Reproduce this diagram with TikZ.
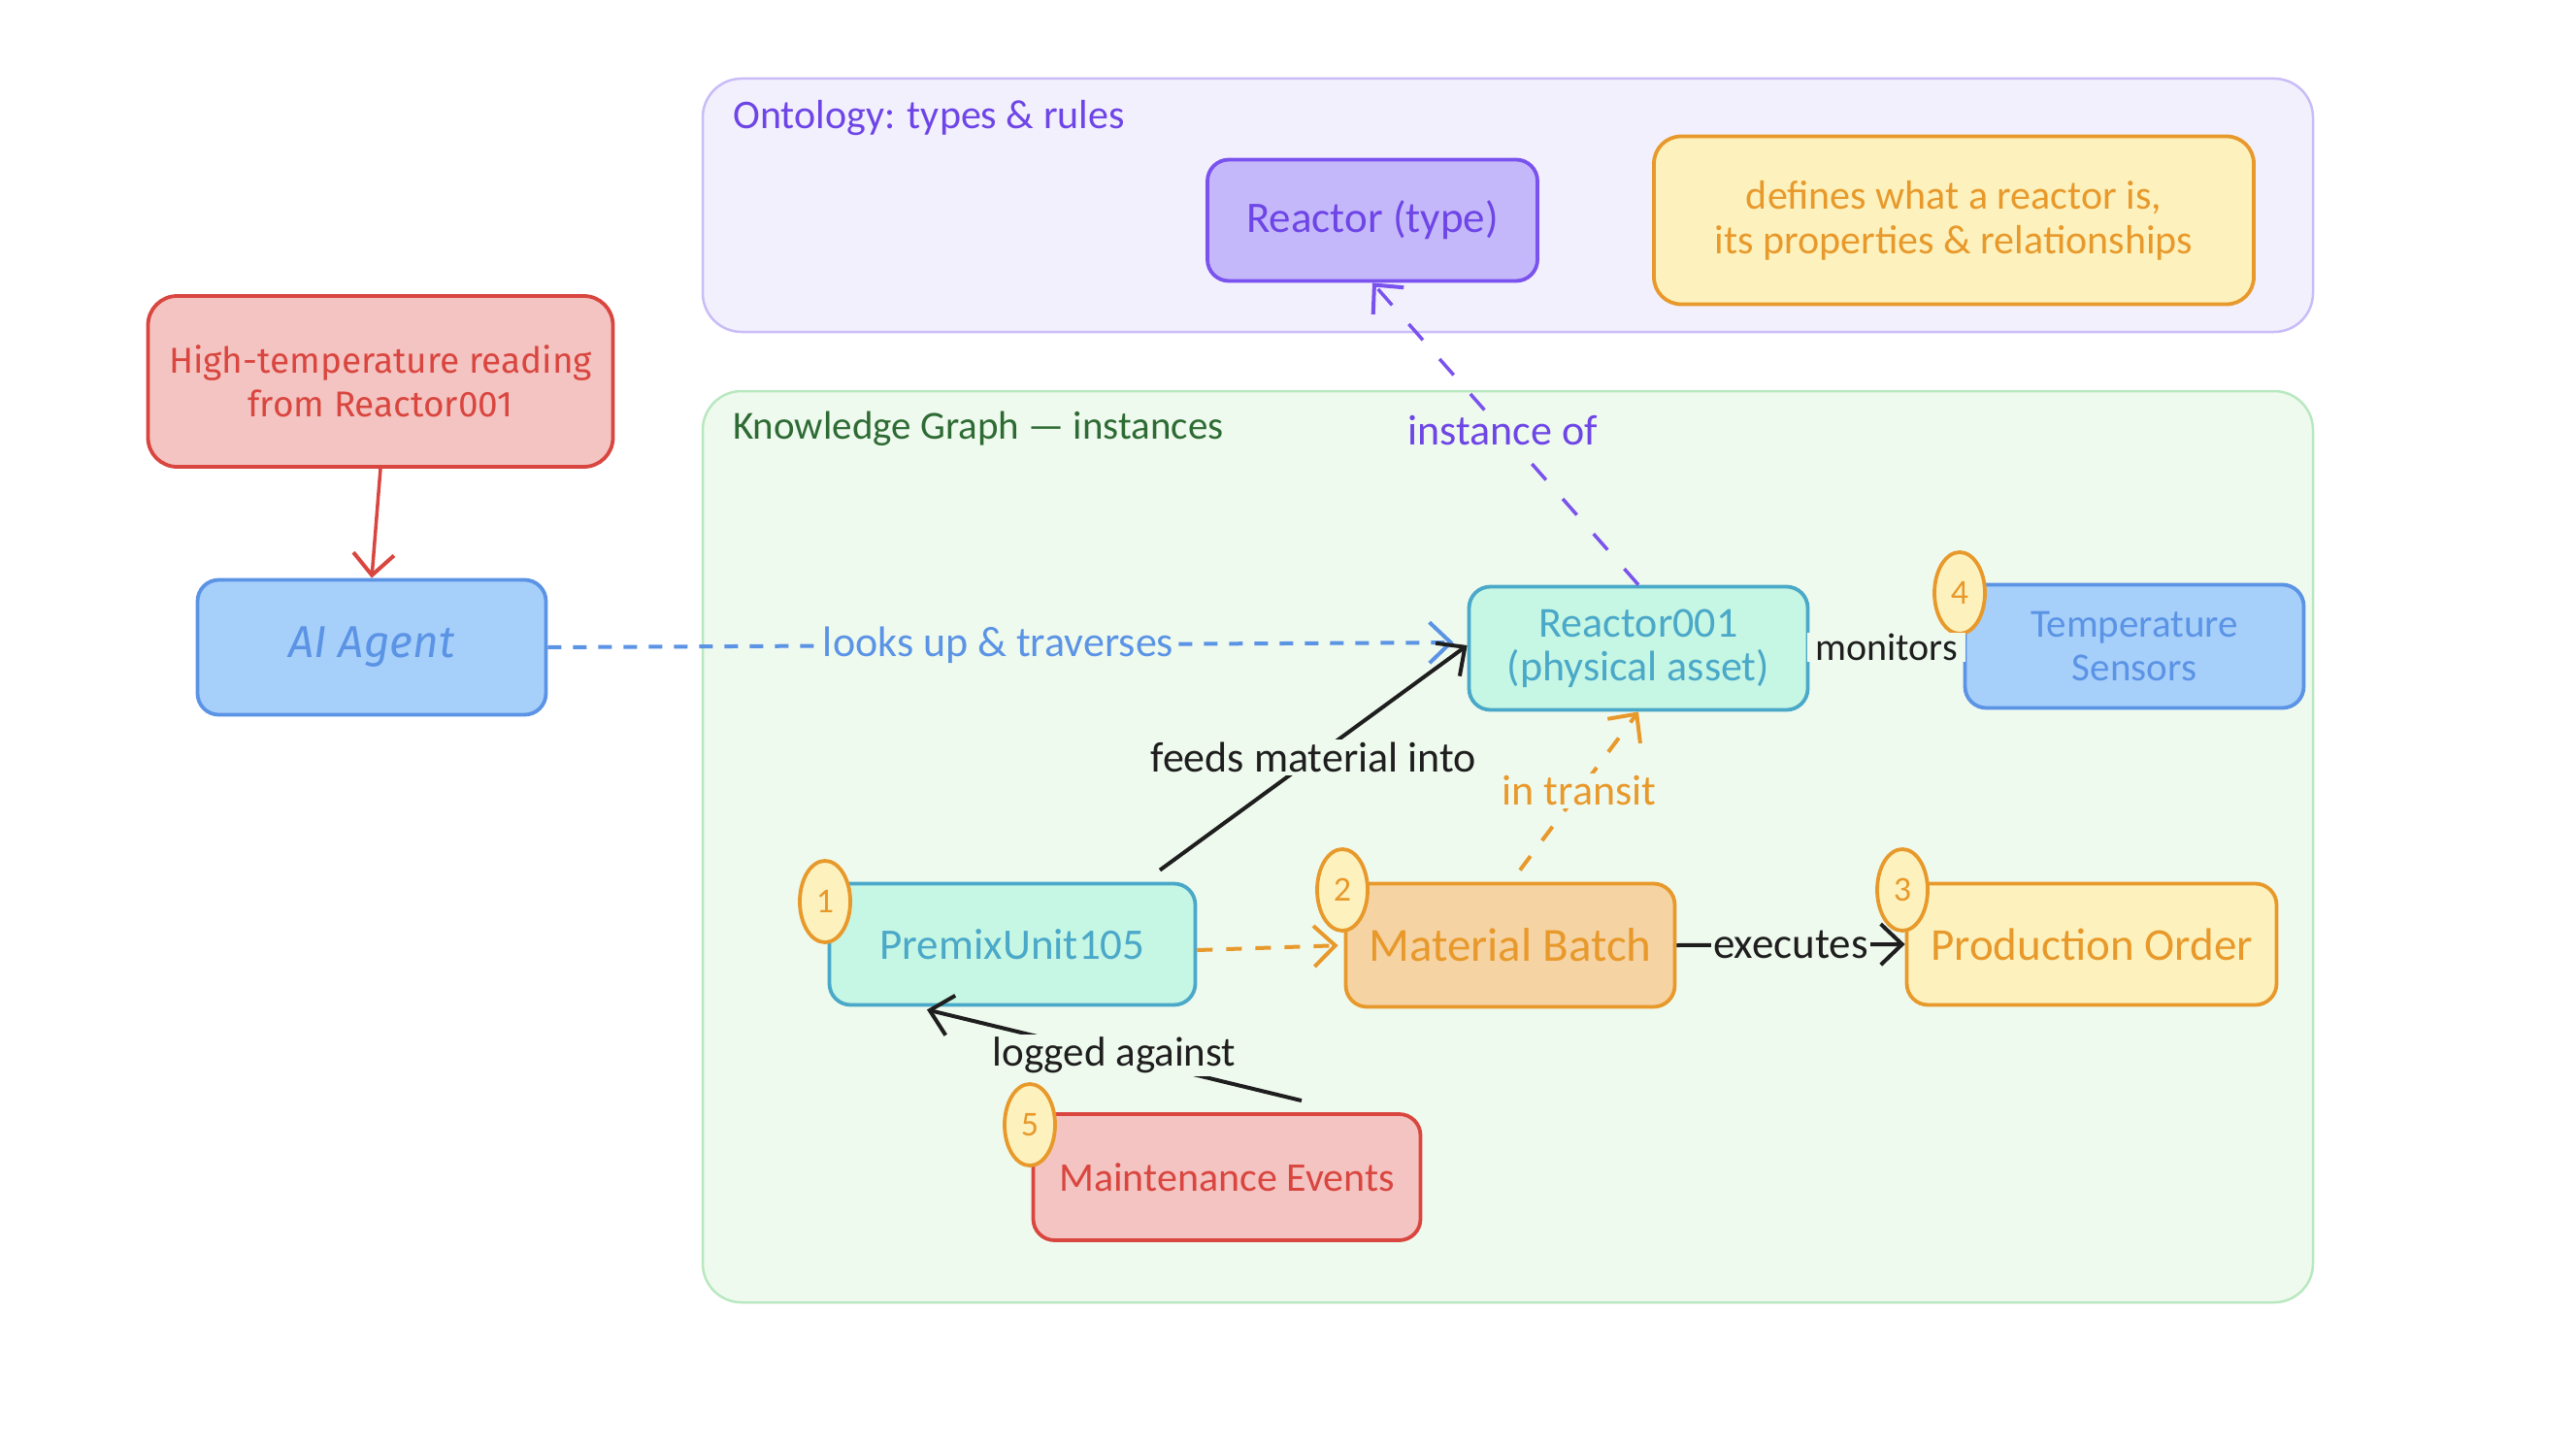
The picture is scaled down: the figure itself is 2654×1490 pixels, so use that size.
\documentclass[tikz,border=0pt]{standalone}
\usepackage{fontspec}
\setmainfont{Carlito}
\newfontfamily\handfont{Fira Sans}
\usetikzlibrary{arrows.meta,shapes.geometric}
\definecolor{ontfill}{HTML}{F3F0FE}
\definecolor{ontdraw}{HTML}{C9BCF7}
\definecolor{onttext}{HTML}{6E45E6}
\definecolor{kgfill}{HTML}{EFFAEE}
\definecolor{kgdraw}{HTML}{B8E8C0}
\definecolor{kgtext}{HTML}{2E6B34}
\definecolor{purfill}{HTML}{C5B8FA}
\definecolor{purdraw}{HTML}{7A52EE}
\definecolor{yelfill}{HTML}{FDF2BD}
\definecolor{orgdraw}{HTML}{E8992B}
\definecolor{orgfill}{HTML}{F6D3A2}
\definecolor{redfill}{HTML}{F4C4C2}
\definecolor{reddraw}{HTML}{D9463F}
\definecolor{bluefill}{HTML}{A6CFFA}
\definecolor{bluedraw}{HTML}{5B93E5}
\definecolor{tealfill}{HTML}{C6F6E4}
\definecolor{tealdraw}{HTML}{4AA8C8}
\definecolor{inkblack}{HTML}{1E1E1E}
\tikzset{
  x=1pt, y=-1pt,
  frame/.style={draw, line width=2.5pt, rounded corners=40pt, inner sep=0pt},
  nodebox/.style={draw, line width=3.8pt, rounded corners=22pt, inner sep=0pt, align=center},
  badge/.style={ellipse, draw=orgdraw, fill=yelfill, line width=3.8pt, inner sep=0pt,
    minimum width=52pt, minimum height=84pt, text=orgdraw, font=\fontsize{36}{40}\selectfont},
  lbl/.style={fill=kgfill, inner sep=3pt, font=\fontsize{44}{50}\selectfont},
  barb/.style={-{Straight Barb[length=22pt,width=42pt,line width=4pt]}},
  conn/.style={line width=4pt, barb},
}
\begin{document}
\begin{tikzpicture}
\useasboundingbox (0,0) rectangle (2654,1490);
\fill[white] (0,0) rectangle (2654,1490);
% frames
\node[frame, draw=ontdraw, fill=ontfill, minimum width=1659pt, minimum height=261pt] (ont) at (1553.5,211.5) {};
\node[frame, draw=kgdraw, fill=kgfill, minimum width=1659pt, minimum height=939pt] (kg) at (1553.5,872.5) {};
\node[anchor=west, text=onttext, font=\fontsize{42}{48}\selectfont, inner sep=0pt] (ontlbl) at (755,122) {Ontology: types \& rules};
\node[anchor=west, text=kgtext, font=\fontsize{41}{48}\selectfont, inner sep=0pt] (kglbl) at (755,442) {Knowledge Graph — instances};
% ontology nodes
\node[nodebox, draw=purdraw, fill=purfill, text=onttext, minimum width=340pt, minimum height=125pt,
  font=\fontsize{45}{50}\selectfont] (rtype) at (1414,227) {Reactor (type)};
\node[nodebox, draw=orgdraw, fill=yelfill, text=orgdraw, minimum width=618pt, minimum height=173pt,
  rounded corners=28pt, font=\fontsize{42}{46}\selectfont] (defs) at (2013,227) {defines what a reactor is,\\its properties \& relationships};
% left nodes
\node[nodebox, draw=reddraw, fill=redfill, text=reddraw, minimum width=479pt, minimum height=176pt,
  rounded corners=30pt, font=\handfont\fontsize{37}{45}\selectfont] (hot) at (392,393) {High-temperature reading\\from Reactor001};
\node[nodebox, draw=bluedraw, fill=bluefill, text=bluedraw, minimum width=359pt, minimum height=139pt,
  font=\handfont\itshape\fontsize{46}{52}\selectfont] (agent) at (383,667) {AI Agent};
% KG nodes
\node[nodebox, draw=tealdraw, fill=tealfill, text=tealdraw, minimum width=349pt, minimum height=127pt,
  font=\fontsize{44}{45}\selectfont] (r001) at (1688,668) {Reactor001\\(physical asset)};
\node[nodebox, draw=bluedraw, fill=bluefill, text=bluedraw, minimum width=349pt, minimum height=127pt,
  font=\fontsize{41}{45}\selectfont] (sens) at (2199,666) {Temperature\\Sensors};
\node[nodebox, draw=tealdraw, fill=tealfill, text=tealdraw, minimum width=377pt, minimum height=125pt,
  font=\fontsize{45}{50}\selectfont] (premix) at (1043,973) {PremixUnit105};
\node[nodebox, draw=orgdraw, fill=orgfill, text=orgdraw, minimum width=339pt, minimum height=127pt,
  font=\fontsize{49}{54}\selectfont] (batch) at (1556,974) {Material Batch};
\node[nodebox, draw=orgdraw, fill=yelfill, text=orgdraw, minimum width=381pt, minimum height=125pt,
  font=\fontsize{47}{52}\selectfont] (porder) at (2155,973) {Production Order};
\node[nodebox, draw=reddraw, fill=redfill, text=reddraw, minimum width=399pt, minimum height=130pt,
  font=\fontsize{42}{48}\selectfont] (maint) at (1264,1213) {Maintenance Events};
% badges
\node[badge] (b1) at (850,929) {1};
\node[badge] (b2) at (1383,917) {2};
\node[badge] (b3) at (1960,917) {3};
\node[badge] (b4) at (2019,611) {4};
\node[badge] (b5) at (1061,1159) {5};
% connectors
\draw[conn, reddraw, line width=3.5pt] (hot.south) -- (agent.north);
\draw[conn, bluedraw, dash pattern=on 14pt off 12pt, shorten >=14pt] (agent.east) --
  node[lbl, text=bluedraw, pos=0.49] {looks up \& traverses} ([yshift=6pt]r001.west);
\draw[conn, purdraw, line width=3.5pt, dash pattern=on 22pt off 26pt] (r001.north) --
  node[lbl, text=onttext, pos=0.51] {instance of} (rtype.south);
\draw[conn, inkblack] ([xshift=152pt,yshift=12pt]premix.north) --
  node[lbl, text=inkblack] {feeds material into} ([yshift=3pt]r001.west);
\draw[conn, orgdraw, dash pattern=on 18pt off 20pt] ([xshift=10pt,yshift=12pt]batch.north) --
  node[lbl, text=orgdraw] {in transit} (r001.south);
\draw[line width=4pt, inkblack, shorten <=3pt, shorten >=3pt] (r001.east) --
  node[lbl, text=inkblack, inner xsep=8pt, inner ysep=1pt, font=\fontsize{40}{46}\selectfont] {monitors} (sens.west);
\draw[conn, orgdraw, dash pattern=on 16pt off 14pt, shorten >=6pt] ([yshift=-6pt]premix.east) -- (batch.west);
\draw[conn, inkblack] (batch.east) --
  node[lbl, text=inkblack, inner sep=2pt, font=\fontsize{45}{50}\selectfont] {executes} (porder.west);
\draw[conn, inkblack] ([xshift=77pt,yshift=12pt]maint.north) --
  node[lbl, text=inkblack, font=\fontsize{43}{50}\selectfont] {logged against} ([xshift=-88pt,yshift=-3pt]premix.south);
\end{tikzpicture}
\end{document}
